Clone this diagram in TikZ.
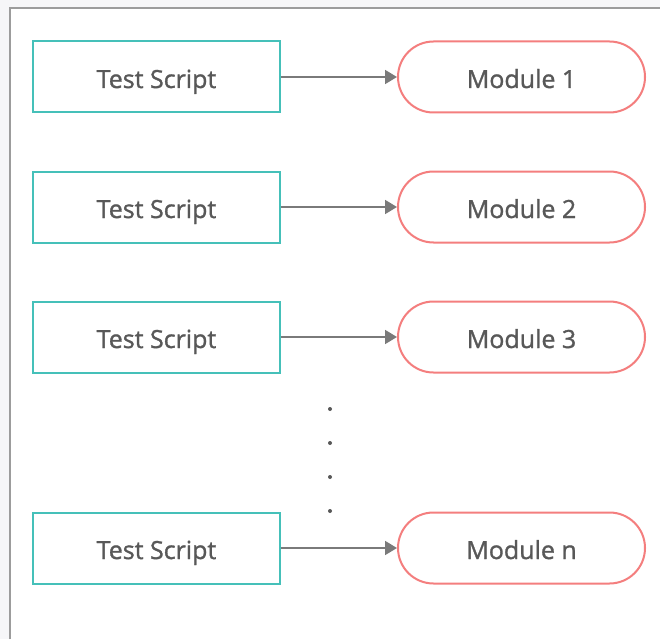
\documentclass[tikz,border=0pt]{standalone}
\usepackage{fontspec}
\setmainfont{Open Sans}
\newfontfamily\boxfont{Open Sans}[FakeBold=1.2]
\usetikzlibrary{
  shapes.misc
  , arrows.meta
  , positioning
}
\definecolor{scriptteal}{HTML}{45C0B9}
\definecolor{modulered}{HTML}{F47E7E}
\definecolor{txtgrey}{HTML}{585858}
\definecolor{arrowgrey}{HTML}{7A7A7A}
\definecolor{framegrey}{HTML}{9C9C9C}
\definecolor{outsidegrey}{HTML}{F6F6F8}

\begin{document}
\begin{tikzpicture}[x=1pt,y=-1pt,
    script/.style={draw=scriptteal, line width=2pt,
      minimum width=247pt, minimum height=71pt, inner sep=0pt,
      text height=22pt, text depth=0pt,
      text=txtgrey, font=\boxfont\fontsize{25}{28}\selectfont},
    module/.style={rounded rectangle, draw=modulered, line width=2pt,
      minimum width=247pt, minimum height=71pt, inner sep=0pt,
      text height=22pt, text depth=0pt,
      text=txtgrey, font=\boxfont\fontsize{25}{28}\selectfont},
    link/.style={draw=arrowgrey, line width=1.8pt,
      -{Triangle[length=12pt,width=14pt]}}]
  \useasboundingbox (0,0) rectangle (660,639);
  % page frame
  \fill[outsidegrey] (0,0) rectangle (660,639);
  \fill[white] (10,8) rectangle (660,639);
  \draw[framegrey, line width=2pt] (10,639) -- (10,8) -- (660,8);

  % scripts and modules
  \foreach \y/\n in {77/1,207/2,337/3,548/n}{
    \node[script] (TS\n) at (156.5,\y) {Test Script};
    \node[module] (M\n) at (521.5,\y) {Module \n};
    \draw[link] (TS\n) -- (M\n);
  }

  % dots between module 3 and module n
  \foreach \y in {409,443,477,511}
    \fill[txtgrey] (330,\y) circle (2pt);
\end{tikzpicture}
\end{document}
